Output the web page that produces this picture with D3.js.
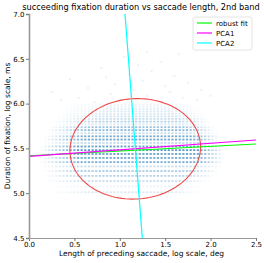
<!DOCTYPE html>
<html lang="en">
<head>
<meta charset="UTF-8">
<title>succeeding fixation duration vs saccade length</title>
<script src="https://d3js.org/d3.v7.min.js"></script>
<style>
  body { margin: 0; background: #fff; }
  svg text { font-family: "DejaVu Sans", sans-serif; fill: #000; }
  .axis path { stroke: #999; }
  .axis line { stroke: #777; }
  .axis text { font-size: 7px; }
</style>
</head>
<body>
<div id="chart"></div>
<script>
// binned fixations: one row per duration (ms), drawn on log scale
const durations = [150,160,170,180,190,200,210,220,230,240,250,260,270,280,290,300,310,320,330,340,350,360,370,380,390,400];
const rowWeight = [0.2,0.1,0.3,0.4,0.48,0.3,0.72,0.78,0.85,0.92,0.85,0.35,0.8,0.75,0.3,0.65,0.55,0.2,0.4,0.3,0.24,0.2,0.18,0.15,0.12,0.1];
const rowLo  = [0.7,0.7,0.65,0.6,0.6,0.55,0.55,0.55,0.55,0.55,0.55,0.55,0.6,0.6,0.65,0.65,0.7,0.7,0.75,0.8,0.8,0.85,0.85,0.9,0.9,0.9];
const rowHi  = [1.55,1.6,1.65,1.7,1.75,1.8,1.85,1.85,1.85,1.85,1.85,1.85,1.8,1.8,1.75,1.75,1.7,1.7,1.65,1.65,1.6,1.6,1.55,1.55,1.5,1.5];
const rowMin = [0.2,0.2,0.18,0.15,0.15,0.12,0.12,0.12,0.12,0.12,0.12,0.15,0.15,0.18,0.2,0.2,0.22,0.25,0.25,0.28,0.3,0.3,0.32,0.35,0.35,0.35];
const rowMax = [1.9,1.95,2.0,2.05,2.1,2.15,2.15,2.15,2.15,2.15,2.15,2.15,2.1,2.1,2.1,2.05,2.05,2.0,2.0,2.0,1.95,1.95,1.9,1.9,1.85,1.85];
const xCols = [0.10,0.14,0.18,0.22,0.26,0.30,0.34,0.38,0.42,0.46,0.50,0.54,0.58,0.62,0.66,0.70,0.74,0.78,0.82,0.86,0.90,0.94,0.98,1.02,1.06,1.10,1.14,1.18,1.22,1.26,1.30,1.34,1.38,1.42,1.46,1.50,1.54,1.58,1.62,1.66,1.70,1.74,1.78,1.82,1.86,1.90,1.94,1.98,2.02,2.06,2.10,2.14,2.18,2.22,2.26,2.30];
// sparse long fixations [log saccade length, duration ms]
const sparse = [[0.35,420],[0.55,430],[0.72,410],[0.9,450],[1.0,420],[1.15,470],[1.3,440],[1.42,415],[1.55,460],[1.7,430],[1.85,420],[0.65,480],[0.95,500],[1.25,520],[1.5,490],[1.75,510],[0.45,530],[1.1,560],[1.35,580],[1.6,550],[0.8,600],[1.2,620],[1.45,640],[1.05,680],[1.9,470],[2.0,440],[0.25,460],[1.65,700],[0.85,540],[1.3,720]];

// fitted lines, endpoints [x0, y0, x1, y1]
const lineNames = ["robust fit", "PCA1", "PCA2"];
const lineColors = ["#00ff00", "#ff00ff", "#00ffff"];
const lineEnds = [[0, 5.418, 2.5, 5.549], [0, 5.41, 2.5, 5.594], [1.057, 7.0, 1.248, 4.5]];
// covariance ellipse: center, semi axes, angle of PCA1 (data units)
const ellCenter = [1.17, 5.495];
const ellAxes = [0.72, 0.56];
const ellSlope = 0.0736;

const xTicks = [0, 0.5, 1.0, 1.5, 2.0, 2.5];
const yTicks = [4.5, 5.0, 5.5, 6.0, 6.5, 7.0];

const W = 264, H = 263;
const margin = { left: 29, right: 8, top: 14, bottom: 25 };

const svg = d3.select("#chart").append("svg")
  .attr("width", W).attr("height", H);

const x = d3.scaleLinear().domain([0, 2.5]).range([margin.left, W - margin.right]);
const y = d3.scaleLinear().domain([4.5, 7.0]).range([H - margin.bottom, margin.top]);

svg.append("clipPath").attr("id", "clip")
  .append("rect")
  .attr("x", x(0)).attr("y", y(7))
  .attr("width", x(2.5) - x(0)).attr("height", y(4.5) - y(7));

const plot = svg.append("g").attr("clip-path", "url(#clip)");

// scatter cells
const pts = [];
durations.forEach((d, i) => {
  xCols.forEach(c => {
    let f = 0;
    if (c >= rowLo[i] && c <= rowHi[i]) f = 1;
    else if (c < rowLo[i]) f = (c - rowMin[i]) / (rowLo[i] - rowMin[i]);
    else f = (rowMax[i] - c) / (rowMax[i] - rowHi[i]);
    if (f > 0) pts.push({ x: c, y: Math.log(d), a: rowWeight[i] * f });
  });
});
sparse.forEach(p => pts.push({ x: p[0], y: Math.log(p[1]), a: 0.12 }));

plot.selectAll(".pt").data(pts).enter().append("rect")
  .attr("class", "pt")
  .attr("x", d => x(d.x) - 1.1)
  .attr("y", d => y(d.y) - 0.9)
  .attr("width", 2.2).attr("height", 1.8)
  .attr("fill", "#1f77b4")
  .attr("fill-opacity", d => 0.8 * d.a);

// ellipse
const th = Math.atan(ellSlope);
const ell = d3.range(0, 361, 3).map(deg => {
  const t = deg * Math.PI / 180;
  const u = ellAxes[0] * Math.cos(t), v = ellAxes[1] * Math.sin(t);
  return [ellCenter[0] + u * Math.cos(th) - v * Math.sin(th),
          ellCenter[1] + u * Math.sin(th) + v * Math.cos(th)];
});
plot.append("path")
  .attr("d", d3.line().x(d => x(d[0])).y(d => y(d[1]))(ell))
  .attr("fill", "none").attr("stroke", "#f04848").attr("stroke-width", 1.1);

// fitted lines
plot.selectAll(".fit").data(lineEnds).enter().append("line")
  .attr("class", "fit")
  .attr("x1", d => x(d[0])).attr("y1", d => y(d[1]))
  .attr("x2", d => x(d[2])).attr("y2", d => y(d[3]))
  .attr("stroke", (d, i) => lineColors[i]).attr("stroke-width", 1.2);

// axes
const gx = svg.append("g").attr("class", "axis")
  .attr("transform", `translate(0,${y(4.5)})`)
  .call(d3.axisBottom(x).tickValues(xTicks).tickFormat(d3.format(".1f")).tickSize(3).tickPadding(1.5));
const gy = svg.append("g").attr("class", "axis")
  .attr("transform", `translate(${x(0)},0)`)
  .call(d3.axisLeft(y).tickValues(yTicks).tickFormat(d3.format(".1f")).tickSize(3).tickPadding(1.5));
gx.select(".domain").attr("stroke", "#888").attr("stroke-width", 1);
gy.select(".domain").attr("stroke", "#aaa").attr("stroke-width", 1.6);

// labels
svg.append("text").attr("x", 141).attr("y", 9.5).attr("text-anchor", "middle")
  .style("font-size", "8.2px").text("succeeding fixation duration vs saccade length, 2nd band");
svg.append("text").attr("x", x(1.25) - 1).attr("y", 256).attr("text-anchor", "middle")
  .style("font-size", "7.5px").text("Length of preceding saccade, log scale, deg");
svg.append("text").attr("transform", `translate(9.5,${y(5.75)}) rotate(-90)`).attr("text-anchor", "middle")
  .style("font-size", "7.5px").text("Duration of fixation, log scale, ms");

// legend
const lg = svg.append("g").attr("transform", "translate(193,17)");
lg.append("rect").attr("width", 59).attr("height", 33).attr("rx", 2)
  .attr("fill", "#fff").attr("fill-opacity", 0.8).attr("stroke", "#ddd").attr("stroke-width", 0.8);
lineNames.forEach((n, i) => {
  lg.append("line").attr("x1", 4).attr("x2", 19).attr("y1", 6 + i * 10).attr("y2", 6 + i * 10)
    .attr("stroke", lineColors[i]).attr("stroke-width", 1.2);
  lg.append("text").attr("x", 23).attr("y", 8.6 + i * 10).style("font-size", "7px").text(n);
});
</script>
</body>
</html>
